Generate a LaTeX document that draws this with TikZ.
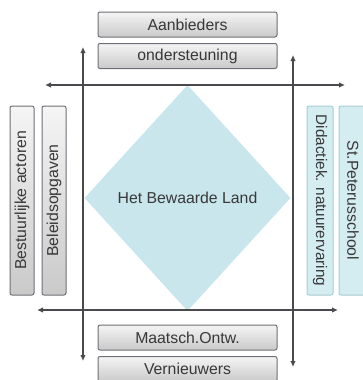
\documentclass[tikz,border=0pt]{standalone}
\usepackage{fontspec}
\setmainfont{Liberation Sans}
\usetikzlibrary{positioning,arrows}
\usetikzlibrary{shapes}
\usetikzlibrary{arrows.meta}
\usepackage{xcolor}
\definecolor{boxline}{HTML}{6E6E76}
\definecolor{landfill}{HTML}{C8E6EC}
\definecolor{bluebox}{HTML}{D4EDF1}
\definecolor{blueline}{HTML}{A9CDD4}
\definecolor{axis}{HTML}{4A4A4E}

\begin{document}
\begin{tikzpicture}[x=1pt,y=-1pt]
  	\useasboundingbox (0,0) rectangle (362,380);
  	\tikzstyle{every node}=[font=\fontsize{15.8}{18}\selectfont, text=black!78]
  	\tikzstyle{graybox}=[draw=boxline, line width=1pt, rounded corners=2pt, top color=gray!8, bottom color=gray!42, inner sep=0pt]
  	\tikzstyle{bluebox}=[draw=blueline, line width=1pt, rounded corners=2pt, fill=bluebox, inner sep=0pt]
  	\draw (187.5,198) node (het_land) [diamond, fill=landfill, minimum width=206pt, minimum height=226pt, inner sep=0pt]{Het Bewaarde Land};
  	\draw (187.5,24.5) node (aanbieders) [graybox, minimum width=179pt, minimum height=25pt]{Aanbieders};
  	\draw (187.5,56) node (ondersteuning) [graybox, minimum width=179pt, minimum height=25pt]{ondersteuning};
  	\draw (187.5,337.5) node (maatsch) [graybox, minimum width=179pt, minimum height=25pt]{Maatsch.Ontw.};
  	\draw (187.5,369) node (vernieuwers) [graybox, minimum width=179pt, minimum height=25pt]{Vernieuwers};
  	\draw (22,200.5) node (bestuurlijk) [graybox, rotate=90, minimum width=189pt, minimum height=24pt]{Bestuurlijke actoren};
  	\draw (54,200.5) node (beleid) [graybox, rotate=90, minimum width=189pt, minimum height=24pt]{Beleidsopgaven};
  	\draw (320,200.5) node (didactiek) [bluebox, rotate=-90, minimum width=189pt, minimum height=26pt, font=\fontsize{15.3}{18}\selectfont]{Didactiek. natuurervaring};
  	\draw (353,200.5) node (peterus) [bluebox, rotate=-90, minimum width=189pt, minimum height=28pt]{St.Peterusschool};
  	\coordinate (top_w) at (45,85);
  	\coordinate (top_e) at (345,85);
  	\coordinate (bot_w) at (37,310);
  	\coordinate (bot_e) at (338,310);
  	\coordinate (left_n) at (83,47);
  	\coordinate (left_s) at (83,361);
  	\coordinate (right_n) at (293,55);
  	\coordinate (right_s) at (293,367);
  	\tikzstyle{axisline}=[draw=axis, line width=1.6pt, {Latex[length=6pt,width=5.5pt]}-{Latex[length=6pt,width=5.5pt]}]
    \draw [axisline] (top_w) to (top_e);
    \draw [axisline] (bot_w) to (bot_e);
    \draw [axisline] (left_n) to (left_s);
    \draw [axisline] (right_n) to (right_s);
  \end{tikzpicture}
\end{document}
